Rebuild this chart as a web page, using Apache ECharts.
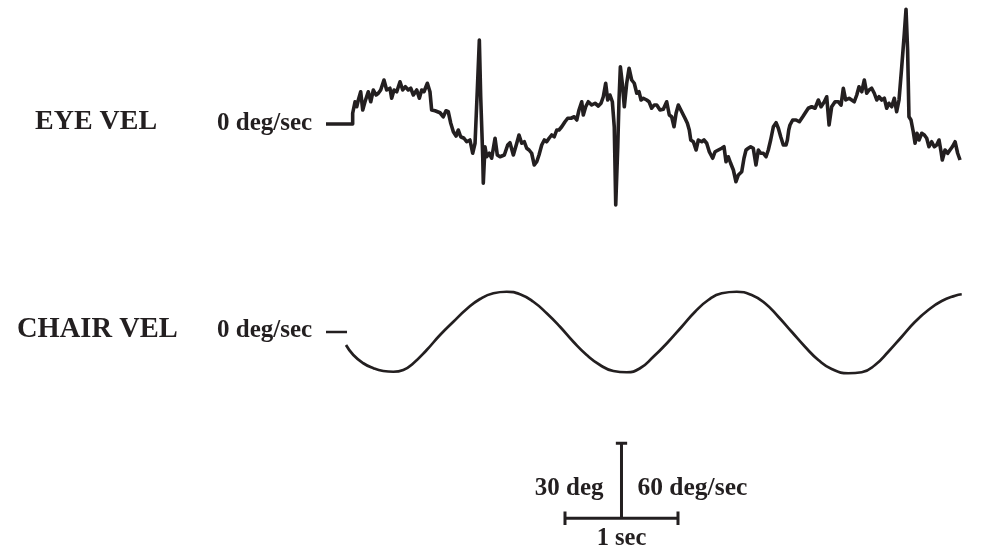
<!DOCTYPE html>
<html>
<head>
<meta charset="utf-8">
<script src="https://cdn.jsdelivr.net/npm/echarts@6/dist/echarts.min.js"></script>
<style>
  html, body { margin: 0; padding: 0; background: #ffffff; }
  #chart { width: 982px; height: 547px; }
</style>
</head>
<body>
<div id="chart"></div>
<script>
// Eye velocity trace: time (s) and velocity (deg/sec)
const eyeTime = [
  0, 0.236, 0.236, 0.257, 0.272, 0.286, 0.307, 0.325, 0.345, 0.374, 0.396, 0.419, 0.443, 0.463, 0.484,
  0.513, 0.537, 0.566, 0.581, 0.602, 0.626, 0.655, 0.679, 0.702, 0.728, 0.750, 0.773, 0.803, 0.826,
  0.847, 0.867, 0.897, 0.920, 0.935, 0.965, 1.009, 1.038, 1.062, 1.082, 1.104, 1.127, 1.151, 1.171,
  1.192, 1.221, 1.245, 1.274, 1.298, 1.319, 1.339, 1.357, 1.369, 1.387, 1.392, 1.407, 1.422, 1.445,
  1.466, 1.496, 1.516, 1.540, 1.555, 1.578, 1.608, 1.628, 1.658, 1.688, 1.708, 1.732, 1.755, 1.776,
  1.797, 1.820, 1.843, 1.865, 1.885, 1.909, 1.932, 1.953, 1.974, 1.997, 2.020, 2.042, 2.062, 2.086,
  2.115, 2.139, 2.168, 2.197, 2.219, 2.239, 2.263, 2.277, 2.298, 2.321, 2.351, 2.381, 2.410, 2.434,
  2.454, 2.475, 2.493, 2.513, 2.534, 2.551, 2.564, 2.582, 2.593, 2.605, 2.622, 2.640, 2.661, 2.682,
  2.705, 2.728, 2.750, 2.770, 2.788, 2.808, 2.838, 2.859, 2.882, 2.905, 2.927, 2.956, 2.985, 3.015,
  3.038, 3.059, 3.080, 3.098, 3.118, 3.148, 3.177, 3.198, 3.215, 3.228, 3.251, 3.275, 3.295, 3.325,
  3.345, 3.369, 3.392, 3.422, 3.443, 3.472, 3.502, 3.522, 3.540, 3.560, 3.581, 3.605, 3.628, 3.649,
  3.679, 3.699, 3.717, 3.737, 3.758, 3.781, 3.805, 3.826, 3.847, 3.870, 3.894, 3.914, 3.935, 3.959,
  3.983, 4.003, 4.024, 4.047, 4.071, 4.083, 4.095, 4.106, 4.130, 4.160, 4.189, 4.219, 4.239, 4.268,
  4.298, 4.328, 4.357, 4.381, 4.410, 4.431, 4.452, 4.475, 4.505, 4.534, 4.558, 4.578, 4.599, 4.629,
  4.652, 4.675, 4.697, 4.717, 4.741, 4.764, 4.785, 4.806, 4.829, 4.852, 4.874, 4.894, 4.918, 4.941,
  4.962, 4.982, 5.006, 5.029, 5.050, 5.071, 5.095, 5.118, 5.133, 5.147, 5.159, 5.177, 5.197, 5.213,
  5.230, 5.248, 5.272, 5.295, 5.316, 5.336, 5.360, 5.383, 5.404, 5.425, 5.443, 5.454, 5.478, 5.502,
  5.522, 5.543, 5.567, 5.590, 5.611
];
const eyeVel = [
  0, 0, 8.6, 17.8, 13.8, 19.2, 25.8, 11.2, 17.8, 25.8, 17.8, 27.2, 23.2, 24.6, 27.2,
  35.2, 27.2, 28.6, 20.6, 27.2, 25.8, 33.8, 27.2, 29.8, 27.2, 28.6, 23.2, 27.2, 20.6,
  27.2, 25.8, 32.6, 25.8, 11.2, 10.6, 9.0, 5.8, 10.6, 9.8, 0.6, -6.2, -9.6, -4.8,
  -10.2, -11.4, -14.2, -12.8, -23.4, -15.4, 27.2, 67.2, 21.8, -26.2, -47.4, -18.2, -26.2, -23.4,
  -27.4, -11.4, -24.8, -26.2, -25.6, -24.8, -16.8, -15.0, -24.8, -15.4, -8.8, -15.4, -14.2, -19.4,
  -20.8, -23.4, -32.8, -30.2, -24.8, -16.8, -12.8, -14.2, -11.4, -8.8, -10.2, -4.8, -4.8, -2.2,
  1.8, 4.6, 4.6, 5.8, 3.2, 11.2, 17.8, 7.2, 13.8, 17.8, 15.2, 16.6, 14.4, 16.6,
  21.8, 32.6, 19.2, 23.2, 17.8, -2.2, -64.8, -18.2, 19.2, 45.8, 32.6, 13.8, 32.6, 44.6,
  35.2, 32.6, 24.6, 25.8, 19.2, 20.6, 19.2, 17.8, 12.6, 15.2, 15.2, 11.2, 11.8, 17.8,
  7.2, 5.8, -2.2, 8.6, 15.2, 9.8, 4.6, 0.6, -4.8, -12.8, -14.2, -20.8, -12.8, -14.2,
  -12.8, -15.4, -22.2, -27.4, -22.2, -20.8, -19.4, -18.2, -30.2, -26.2, -31.4, -36.8, -46.2, -40.8,
  -38.2, -27.4, -20.8, -19.4, -18.2, -19.4, -32.8, -20.8, -23.4, -23.4, -26.2, -20.8, -12.8, -2.2,
  1.0, -3.4, -10.2, -16.8, -16.8, -12.8, -4.8, -0.8, 3.2, 3.2, 1.8, 5.8, 8.6, 12.6,
  13.8, 12.6, 19.2, 13.8, 17.8, 21.8, -0.8, 13.8, 17.8, 17.8, 15.2, 28.6, 19.2, 20.6,
  19.2, 17.8, 23.2, 29.8, 25.8, 35.2, 24.6, 27.2, 28.6, 24.6, 19.2, 21.8, 19.2, 20.6,
  12.6, 16.6, 13.8, 20.6, 9.8, 19.2, 45.8, 72.6, 91.8, 59.2, 5.8, 3.2, -6.2, -15.4,
  -7.4, -12.8, -7.4, -8.8, -11.4, -18.2, -14.2, -18.2, -16.8, -12.8, -22.2, -28.8, -20.8, -23.4,
  -20.8, -18.2, -14.2, -23.4, -28.8
];

// Chair velocity trace: time (s) and velocity (deg/sec)
const chairZeroTime = [0, 0.186];
const chairTime = [
  0.177, 0.242, 0.330, 0.419, 0.507, 0.596, 0.684, 0.773, 0.891, 1.009, 1.127, 1.245, 1.363,
  1.481, 1.599, 1.717, 1.835, 1.953, 2.071, 2.189, 2.307, 2.425, 2.543, 2.661, 2.779, 2.897,
  3.029, 3.148, 3.266, 3.383, 3.502, 3.635, 3.767, 3.885, 4.003, 4.121, 4.239, 4.357, 4.475,
  4.622, 4.741, 4.859, 4.976, 5.095, 5.213, 5.330, 5.449, 5.567, 5.626
];
const chairVel = [
  -10.4, -18.4, -25.0, -29.0, -31.2, -31.8, -30.4, -25.0, -14.4, -2.4, 8.2, 18.4, 26.4,
  31.0, 32.2, 30.2, 24.2, 15.0, 4.2, -7.8, -18.4, -26.4, -31.2, -32.2, -29.0, -19.8,
  -7.8, 4.2, 16.2, 25.6, 31.0, 32.2, 29.6, 23.0, 12.2, 0.2, -11.8, -22.4, -29.6,
  -33.0, -32.2, -26.4, -15.8, -3.8, 8.2, 17.6, 24.8, 29.0, 30.2
];

// Calibration bar: 1 sec horizontally, 60 deg/sec vertically
const barStartSec = 2.115;
const barLengthSec = 1;
const barHeightVel = 60;
const barStemSec = 2.615;

// Text labels
const traceTitles = ['EYE VEL', 'CHAIR VEL'];
const zeroLabel = '0 deg/sec';
const barLabels = ['30 deg', '60 deg/sec', '1 sec'];

const INK = '#231f20';
const pairs = (xs, ys) => xs.map((x, i) => [x, ys[i]]);

const chart = echarts.init(document.getElementById('chart'), null, { renderer: 'canvas' });

const hiddenAxis = (extra) => Object.assign({
  type: 'value', show: false, axisLine: { show: false }, axisTick: { show: false },
  axisLabel: { show: false }, splitLine: { show: false }
}, extra);

const GRID_LEFT = 326;
const GRID_WIDTH = 644.1;   // 113 px per second over 0..5.7 s

const lineSeries = (xi, data, width, smooth) => ({
  type: 'line', xAxisIndex: xi, yAxisIndex: xi, data: data,
  showSymbol: false, symbol: 'none', smooth: !!smooth, animation: false,
  lineStyle: { color: INK, width: width, cap: 'butt', join: 'round' },
  silent: true
});

const tickHalfVel = 5.4;
const capHalfSec = 0.05;

const option = {
  animation: false,
  backgroundColor: '#ffffff',
  grid: [
    { left: GRID_LEFT, width: GRID_WIDTH, top: 4, height: 215, outerBoundsMode: 'none' },
    { left: GRID_LEFT, width: GRID_WIDTH, top: 282, height: 100, outerBoundsMode: 'none' },
    { left: GRID_LEFT, width: GRID_WIDTH, top: 440.8, height: 90, outerBoundsMode: 'none' }
  ],
  xAxis: [
    hiddenAxis({ gridIndex: 0, min: 0, max: 5.7 }),
    hiddenAxis({ gridIndex: 1, min: 0, max: 5.7 }),
    hiddenAxis({ gridIndex: 2, min: 0, max: 5.7 })
  ],
  yAxis: [
    hiddenAxis({ gridIndex: 0, min: -76, max: 96 }),
    hiddenAxis({ gridIndex: 1, min: -40, max: 40 }),
    hiddenAxis({ gridIndex: 2, min: -10, max: 62 })
  ],
  series: [
    lineSeries(0, pairs(eyeTime, eyeVel), 3.6, false),
    lineSeries(1, pairs(chairZeroTime, [0, 0]), 2.6, false),
    lineSeries(1, pairs(chairTime, chairVel), 2.7, true),
    // calibration bar: horizontal span, end ticks, stem and cap
    lineSeries(2, [[barStartSec, 0], [barStartSec + barLengthSec, 0]], 3, false),
    lineSeries(2, [[barStartSec, -tickHalfVel], [barStartSec, tickHalfVel]], 3, false),
    lineSeries(2, [[barStartSec + barLengthSec, -tickHalfVel], [barStartSec + barLengthSec, tickHalfVel]], 3, false),
    lineSeries(2, [[barStemSec, 0], [barStemSec, barHeightVel]], 3, false),
    lineSeries(2, [[barStemSec - capHalfSec, barHeightVel], [barStemSec + capHalfSec, barHeightVel]], 3, false)
  ]
};
chart.setOption(option);

// Labels placed next to the traces and the calibration bar
const F = (size) => 'bold ' + size + 'px "Liberation Serif", "Times New Roman", serif';
const label = (text, x, y, size, align) => ({
  type: 'text', x: x, y: y, silent: true,
  style: { text: text, font: F(size), fill: INK, align: align || 'left', verticalAlign: 'middle' }
});
const eyeZeroY = chart.convertToPixel({ yAxisIndex: 0 }, 0);
const chairZeroY = chart.convertToPixel({ yAxisIndex: 1 }, 0);
const barY0 = chart.convertToPixel({ yAxisIndex: 2 }, 0);
const barYMid = chart.convertToPixel({ yAxisIndex: 2 }, barHeightVel * 0.4);
const stemX = chart.convertToPixel({ xAxisIndex: 2 }, barStemSec);

chart.setOption({
  graphic: [
    label(traceTitles[0], 35, eyeZeroY - 2, 28),
    label(zeroLabel, 217, eyeZeroY, 25),
    label(traceTitles[1], 17, chairZeroY - 2, 28.5),
    label(zeroLabel, 217, chairZeroY - 1, 25),
    label(barLabels[0], stemX - 18, barYMid, 25, 'right'),
    label(barLabels[1], stemX + 16, barYMid, 25.5, 'left'),
    label(barLabels[2], stemX, barY0 + 20, 24.5, 'center')
  ]
});
</script>
</body>
</html>
